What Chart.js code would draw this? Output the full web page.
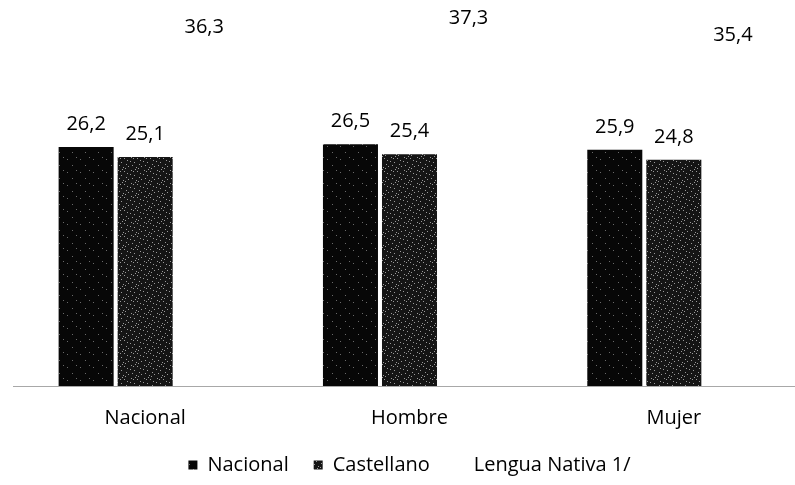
<!DOCTYPE html>
<html>
<head>
<meta charset="utf-8">
<script src="https://cdn.jsdelivr.net/npm/chart.js@4.4.1/dist/chart.umd.min.js"></script>
<style>
html,body{margin:0;padding:0;background:#fff;overflow:hidden;width:795px;height:485px;}
#wrap{width:830px;height:485px;}
</style>
</head>
<body>
<div id="wrap"><canvas id="c" width="830" height="485"></canvas></div>
<script>
const categories = ["Nacional", "Hombre", "Mujer"];
const seriesNames = ["Nacional", "Castellano", "Lengua Nativa 1/"];
const nacional = [26.2, 26.5, 25.9];
const castellano = [25.1, 25.4, 24.8];
const lenguaNativa = [36.3, 37.3, 35.4];

function makePattern(base, dotColor, dots, size) {
  const pc = document.createElement('canvas');
  pc.width = size; pc.height = size;
  const g = pc.getContext('2d');
  g.fillStyle = base; g.fillRect(0, 0, size, size);
  g.fillStyle = dotColor;
  dots.forEach(d => g.fillRect(d[0], d[1], 1, 1));
  return g.createPattern(pc, 'repeat');
}
const patNacional = makePattern('#070707', '#6a6a6a', [[2,3],[7,9],[11,1]], 13);
const patCastellano = makePattern('#151515', '#9a9a9a',
  [[1,1],[4,6],[7,2],[2,9],[9,8],[6,11],[10,4],[0,5],[3,2],[8,12],[11,10],[5,0]], 13);

const fmt = v => v.toFixed(1).replace('.', ',');
const FONT = "'Open Sans', 'Liberation Sans', sans-serif";

const labelPlugin = {
  id: 'valueLabels',
  afterDatasetsDraw(chart) {
    const ctx = chart.ctx;
    ctx.save();
    ctx.font = "20px " + FONT;
    ctx.fillStyle = '#000';
    ctx.textAlign = 'center';
    ctx.textBaseline = 'alphabetic';
    chart.data.datasets.forEach((ds, di) => {
      const meta = chart.getDatasetMeta(di);
      const off = di === 2 ? 22 : 17;
      meta.data.forEach((bar, i) => {
        ctx.fillText(fmt(ds.data[i]), bar.x, bar.y - off);
      });
    });
    ctx.restore();
  }
};

new Chart(document.getElementById('c'), {
  type: 'bar',
  data: {
    labels: categories,
    datasets: [
      { label: seriesNames[0], data: nacional, backgroundColor: patNacional, borderWidth: 0 },
      { label: seriesNames[1], data: castellano, backgroundColor: patCastellano, borderWidth: 0 },
      { label: seriesNames[2], data: lenguaNativa, backgroundColor: '#ffffff', borderWidth: 0 }
    ]
  },
  options: {
    responsive: false,
    animation: false,
    devicePixelRatio: 1,
    datasets: { bar: { categoryPercentage: 0.67, barPercentage: 0.932 } },
    layout: { padding: { left: 13, right: 24, top: 21, bottom: 0 } },
    scales: {
      x: {
        grid: { display: false, drawTicks: false },
        border: { display: true, color: '#a8a8a8', width: 1, dash: [2, 4] },
        ticks: { color: '#000', font: { family: FONT, size: 20 }, padding: 20 },
        afterFit: s => { s.height = 44; }
      },
      y: { display: false, min: 0, max: 40 }
    },
    plugins: {
      legend: {
        position: 'bottom',
        labels: {
          color: '#000',
          font: { family: FONT, size: 20 },
          boxWidth: 9, boxHeight: 9,
          padding: 25
        }
      },
      tooltip: { enabled: false }
    }
  },
  plugins: [labelPlugin]
});
</script>
</body>
</html>
